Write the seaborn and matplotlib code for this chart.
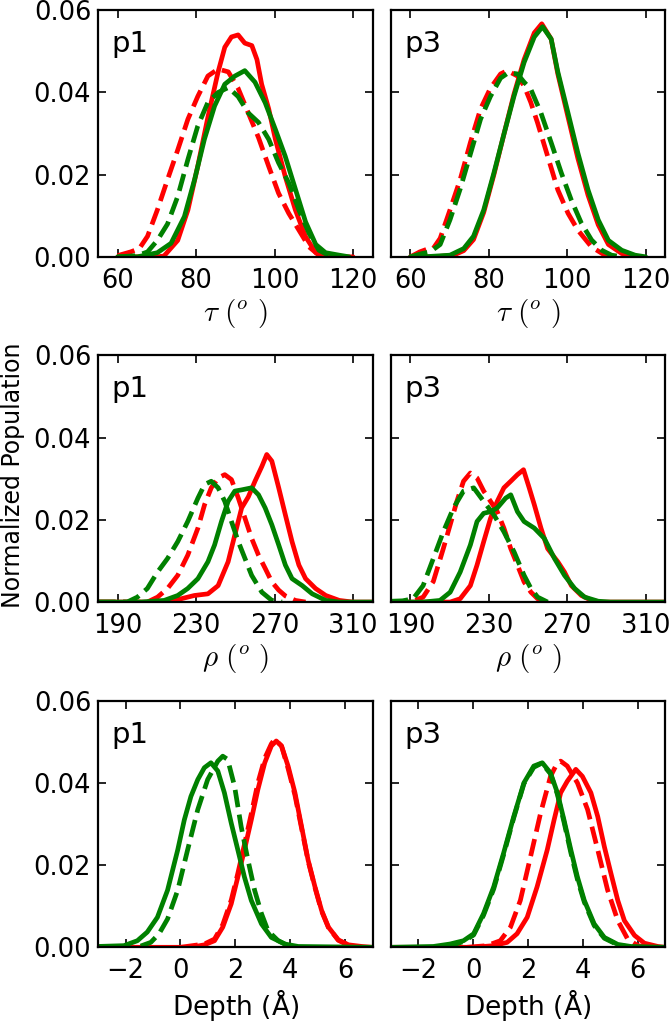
import matplotlib
matplotlib.use("Agg")
import seaborn as sns
from matplotlib import pyplot as plt

RED = "#ff0000"
GREEN = "#008000"

# ---- tau, p1 ----
tau_p1_red_solid_x = [60, 70, 71.8, 75.3, 77.9, 80.4, 83.0, 85.6, 87.3, 89.0, 90.7, 92.4, 94.2, 95.5,
                      96.7, 98.5, 100.2, 102.7, 105.3, 107.9, 110.5, 113, 120]
tau_p1_red_solid_y = [0, 0, 0.0002, 0.004, 0.0114, 0.022, 0.034, 0.045, 0.051, 0.0535, 0.054, 0.052,
                      0.0514, 0.048, 0.042, 0.036, 0.0286, 0.0196, 0.0114, 0.0049, 0.001, 0, 0]
tau_p1_red_dash_x = [60, 63.3, 65.5, 67.6, 70.1, 72.7, 75.3, 77.9, 80.4, 83.0, 85.6, 88.2, 90.7, 93.3,
                     95.9, 98.5, 101.0, 103.6, 106.2, 108.8, 111.3, 114]
tau_p1_red_dash_y = [0.0003, 0.0012, 0.002, 0.005, 0.0114, 0.0188, 0.026, 0.0335, 0.039, 0.044, 0.0457,
                     0.045, 0.041, 0.035, 0.029, 0.022, 0.0155, 0.0106, 0.0065, 0.0024, 0.0004, 0]
tau_p1_green_solid_x = [60, 65, 70.1, 73.6, 77.0, 79.6, 82.1, 84.7, 87.3, 89.9, 92.4, 95.0, 97.6, 100.2,
                        102.7, 105.3, 107.9, 110.5, 113.0, 116.5, 119]
tau_p1_green_solid_y = [0, 0, 0.001, 0.0033, 0.0098, 0.0188, 0.0286, 0.0367, 0.042, 0.044, 0.0453, 0.0425,
                        0.0375, 0.031, 0.0245, 0.0165, 0.0085, 0.003, 0.001, 0.0004, 0]
tau_p1_green_dash_x = [60, 65, 67.6, 70.1, 72.7, 75.3, 77.9, 80.4, 83.0, 85.6, 88.2, 90.7, 93.3, 95.9,
                       98.5, 101.0, 103.6, 106.2, 108.8, 111.3, 113.9, 117]
tau_p1_green_dash_y = [0, 0.0003, 0.0012, 0.004, 0.008, 0.0147, 0.0237, 0.0318, 0.0376, 0.040, 0.0412,
                       0.039, 0.035, 0.0327, 0.0286, 0.0229, 0.018, 0.0114, 0.0057, 0.0016, 0.0003, 0]

# ---- tau, p3 ----
tau_p3_red_solid_x = [60, 66, 71, 73.6, 76.1, 78.7, 81.3, 83.9, 86.4, 89.0, 91.6, 93.5, 95.9, 97.6,
                      100.2, 102.7, 105.3, 107.9, 110.5, 113.9, 117]
tau_p3_red_solid_y = [0, 0, 0.0004, 0.0015, 0.0042, 0.0108, 0.020, 0.030, 0.0395, 0.048, 0.0545, 0.0567,
                      0.053, 0.0445, 0.034, 0.024, 0.015, 0.0078, 0.003, 0.0008, 0]
tau_p3_red_dash_x = [60, 62.4, 64.1, 65.8, 67.6, 70.1, 72.7, 75.3, 77.9, 80.4, 83.0, 84.7, 87.3, 89.0,
                     90.7, 92.4, 95.0, 97.6, 100.2, 102.7, 106.2, 109.6, 112.2]
tau_p3_red_dash_y = [0, 0.0012, 0.0018, 0.002, 0.0045, 0.0114, 0.0188, 0.0278, 0.036, 0.041, 0.0445,
                     0.0453, 0.044, 0.0416, 0.0376, 0.0327, 0.0245, 0.0163, 0.0106, 0.0065, 0.0024,
                     0.0004, 0]
tau_p3_green_solid_x = [60, 63.3, 70.1, 73.6, 76.1, 78.7, 81.3, 83.9, 86.4, 89.0, 91.6, 93.7, 95.9, 97.6,
                        100.2, 102.7, 105.3, 107.9, 110.5, 113.9, 117.3, 120]
tau_p3_green_solid_y = [0, 0, 0.0004, 0.002, 0.005, 0.0114, 0.0204, 0.030, 0.039, 0.0473, 0.0535, 0.056,
                        0.053, 0.045, 0.035, 0.0253, 0.0163, 0.009, 0.004, 0.0016, 0.0004, 0]
tau_p3_green_dash_x = [60, 63, 65, 67.6, 70.1, 72.7, 75.3, 77.9, 80.4, 83.0, 85.0, 87.3, 89.0, 90.7,
                       93.3, 95.9, 98.5, 101.0, 103.6, 106.2, 108.8, 111.3, 114]
tau_p3_green_dash_y = [0, 0.0008, 0.0012, 0.003, 0.009, 0.0165, 0.025, 0.0335, 0.039, 0.0435, 0.0448,
                       0.0445, 0.0425, 0.0408, 0.035, 0.0278, 0.0204, 0.0139, 0.0082, 0.0041, 0.0016,
                       0.0004, 0]

# ---- rho, p1 ----
rho_p1_red_solid_x = [180, 213.7, 222.3, 229.1, 236.0, 241.2, 246.3, 249.7, 253.2, 256.6, 260.0, 263.5,
                      266.0, 268.6, 272.1, 275.5, 278.9, 282.4, 285.8, 290.9, 296.1, 303.0, 309.8, 320]
rho_p1_red_solid_y = [0, 0, 0.0008, 0.0016, 0.002, 0.004, 0.0098, 0.0163, 0.0229, 0.0256, 0.0294, 0.033,
                      0.0359, 0.0343, 0.0278, 0.0212, 0.0147, 0.009, 0.0057, 0.0033, 0.0016, 0.0004, 0, 0]
rho_p1_red_dash_x = [180, 205.1, 210.3, 215.4, 220.6, 225.7, 230.9, 234.3, 237.7, 241.2, 244.6, 248.0,
                     251.5, 254.9, 258.3, 261.8, 265.2, 268.6, 272.1, 275.5, 280.6, 285.8]
rho_p1_red_dash_y = [0, 0, 0.0012, 0.0033, 0.0065, 0.0114, 0.018, 0.0237, 0.0278, 0.0302, 0.031, 0.0298,
                     0.0253, 0.0204, 0.0155, 0.0114, 0.0082, 0.0049, 0.0029, 0.0015, 0.0004, 0]
rho_p1_green_solid_x = [180, 201.7, 213.7, 220.6, 225.7, 230.9, 236.0, 239.4, 242.9, 246.3, 249.7, 253.2,
                        258.3, 261.8, 265.2, 268.6, 272.1, 275.5, 278.9, 284.1, 289.2, 296.1, 303.0, 320]
rho_p1_green_solid_y = [0, 0, 0.0004, 0.0016, 0.0033, 0.0057, 0.0098, 0.0139, 0.0196, 0.0245, 0.027,
                        0.0273, 0.0278, 0.0261, 0.0229, 0.0188, 0.0139, 0.009, 0.0057, 0.004, 0.002,
                        0.0004, 0, 0]
rho_p1_green_dash_x = [180, 194.8, 200.0, 205.1, 210.3, 215.4, 220.6, 225.7, 230.9, 234.3, 237.7, 241.2,
                       244.6, 248.0, 251.5, 254.9, 258.3, 263.5, 268.6, 273.8]
rho_p1_green_dash_y = [0, 0, 0.0012, 0.0033, 0.0073, 0.0106, 0.0147, 0.0196, 0.0253, 0.0286, 0.0294,
                       0.0278, 0.0245, 0.0196, 0.0147, 0.0106, 0.0065, 0.0024, 0.0004, 0]

# ---- rho, p3 ----
rho_p3_red_solid_x = [180, 210.3, 215.4, 220.6, 224.0, 227.4, 230.9, 234.3, 237.7, 241.2, 244.6, 247.7,
                      250.6, 253.2, 256.6, 260.0, 265.2, 268.6, 272.1, 277.2, 282.4, 287.5, 320]
rho_p3_red_solid_y = [0, 0, 0.0008, 0.004, 0.009, 0.0147, 0.0204, 0.0245, 0.0278, 0.0294, 0.031, 0.0322,
                      0.0278, 0.0237, 0.018, 0.013, 0.0098, 0.0073, 0.004, 0.0016, 0.0004, 0, 0]
rho_p3_red_dash_x = [180, 190.0, 196.5, 201.7, 206.8, 210.3, 213.7, 217.1, 220.6, 224.0, 227.4, 230.9,
                     234.3, 237.7, 241.2, 244.6, 248.0, 251.5, 254.9, 260.0]
rho_p3_red_dash_y = [0, 0, 0.0012, 0.005, 0.013, 0.0188, 0.0245, 0.0294, 0.0314, 0.0302, 0.027, 0.0245,
                     0.022, 0.018, 0.013, 0.009, 0.0049, 0.0024, 0.0008, 0]
rho_p3_green_solid_x = [180, 196.5, 205.1, 210.3, 215.4, 220.6, 224.0, 227.4, 230.9, 234.3, 238.6, 241.2,
                        244.6, 248.0, 253.2, 258.3, 263.5, 268.6, 273.8, 278.9, 285.8, 292, 320]
rho_p3_green_solid_y = [0, 0, 0.0004, 0.0024, 0.0073, 0.0139, 0.0196, 0.0216, 0.022, 0.0229, 0.0253,
                        0.0261, 0.022, 0.0196, 0.018, 0.0155, 0.0106, 0.0065, 0.0033, 0.0012, 0.0002, 0, 0]
rho_p3_green_dash_x = [180, 186.0, 191.4, 196.5, 201.7, 206.8, 212.0, 217.1, 222.3, 227.4, 232.6, 237.7,
                       242.9, 248.0, 251.5, 254.9, 260.0]
rho_p3_green_dash_y = [0.0002, 0.0003, 0.0008, 0.004, 0.0106, 0.0171, 0.0229, 0.027, 0.0278, 0.0245,
                       0.0212, 0.0171, 0.0122, 0.0065, 0.0033, 0.0012, 0]

# ---- depth, p1 ----
depth_p1_red_solid_x = [-3.0, 0.38, 0.87, 1.24, 1.54, 1.85, 2.09, 2.33, 2.58, 2.82, 3.07, 3.31, 3.49,
                        3.68, 3.92, 4.17, 4.41, 4.65, 4.9, 5.14, 5.39, 5.75, 6.12, 6.61, 7.0]
depth_p1_red_solid_y = [0, 0, 0.0006, 0.0016, 0.0049, 0.0106, 0.0171, 0.0237, 0.031, 0.0384, 0.0449,
                        0.049, 0.0502, 0.049, 0.0441, 0.0376, 0.0294, 0.0212, 0.0147, 0.009, 0.0049,
                        0.0018, 0.0006, 0.0002, 0]
depth_p1_red_dash_x = [0.0, 0.87, 1.24, 1.54, 1.85, 2.09, 2.33, 2.58, 2.82, 3.07, 3.31, 3.43, 3.68, 3.92,
                       4.17, 4.41, 4.65, 4.9, 5.14, 5.39, 5.75, 6.12, 6.5]
depth_p1_red_dash_y = [0, 0.0008, 0.002, 0.0055, 0.0115, 0.018, 0.025, 0.0325, 0.040, 0.046, 0.0495,
                       0.0506, 0.049, 0.0435, 0.037, 0.029, 0.021, 0.0145, 0.0088, 0.0048, 0.0017, 0.0005, 0]
depth_p1_green_solid_x = [-3.04, -2.06, -1.57, -1.21, -0.84, -0.47, -0.1, 0.14, 0.38, 0.63, 0.87, 1.11,
                          1.36, 1.6, 1.85, 2.09, 2.33, 2.58, 2.95, 3.31, 3.8, 4.29, 7.0]
depth_p1_green_solid_y = [0.0002, 0.0004, 0.0016, 0.0037, 0.0073, 0.0139, 0.0237, 0.031, 0.0367, 0.0408,
                          0.0437, 0.0449, 0.0429, 0.0376, 0.0302, 0.0237, 0.0171, 0.0114, 0.0057, 0.0024,
                          0.0008, 0.0002, 0]
depth_p1_green_dash_x = [-1.45, -1.08, -0.78, -0.47, -0.1, 0.26, 0.63, 0.99, 1.36, 1.54, 1.72, 1.97,
                         2.21, 2.46, 2.7, 2.95, 3.19, 3.56, 3.92, 4.29]
depth_p1_green_dash_y = [0.0003, 0.0012, 0.0033, 0.0069, 0.0139, 0.0237, 0.0335, 0.0408, 0.0453, 0.0465,
                         0.0457, 0.0392, 0.0294, 0.0212, 0.0139, 0.0082, 0.004, 0.0016, 0.0004, 0]

# ---- depth, p3 ----
depth_p3_red_solid_x = [-3.0, 0.02, 0.75, 1.24, 1.6, 1.97, 2.33, 2.7, 2.95, 3.19, 3.43, 3.74, 3.98,
                        4.29, 4.54, 4.78, 5.02, 5.27, 5.51, 5.88, 6.24, 6.73, 7.0]
depth_p3_red_solid_y = [0, 0, 0.0004, 0.0012, 0.0033, 0.0073, 0.0147, 0.0237, 0.031, 0.0376, 0.0404,
                        0.0433, 0.0416, 0.0376, 0.0318, 0.0245, 0.018, 0.0114, 0.0065, 0.0029, 0.001,
                        0.0002, 0]
depth_p3_red_dash_x = [-0.22, 0.5, 0.99, 1.36, 1.72, 2.09, 2.46, 2.82, 3.07, 3.19, 3.43, 3.8, 4.17,
                       4.54, 4.9, 5.27, 5.63, 6.0, 6.36]
depth_p3_red_dash_y = [0, 0.0004, 0.0016, 0.0049, 0.0114, 0.022, 0.0327, 0.0416, 0.0449, 0.0453, 0.0441,
                       0.040, 0.0335, 0.0237, 0.0139, 0.0065, 0.002, 0.0004, 0]
depth_p3_green_solid_x = [-3.0, -1.45, -0.84, -0.35, 0.02, 0.38, 0.75, 1.11, 1.48, 1.85, 2.21, 2.52,
                          2.82, 3.07, 3.31, 3.56, 3.8, 4.05, 4.41, 4.78, 5.27, 5.75, 7.0]
depth_p3_green_solid_y = [0, 0.0002, 0.0008, 0.0016, 0.0033, 0.0082, 0.0147, 0.0229, 0.0318, 0.040,
                          0.0441, 0.0449, 0.0424, 0.0376, 0.031, 0.0237, 0.0171, 0.0114, 0.0057, 0.0024,
                          0.0007, 0.0002, 0]
depth_p3_green_dash_x = [-1.0, -0.35, 0.02, 0.38, 0.75, 1.11, 1.48, 1.85, 2.21, 2.5, 2.82, 3.07, 3.31,
                         3.56, 3.8, 4.05, 4.41, 4.78, 5.27, 5.75]
depth_p3_green_dash_y = [0, 0.0014, 0.003, 0.0078, 0.0142, 0.0225, 0.0315, 0.0398, 0.0438, 0.0448,
                         0.0422, 0.0372, 0.0305, 0.023, 0.0165, 0.011, 0.0053, 0.0022, 0.0006, 0]

panel_names = ["p1", "p3"]
x_labels = [r"$\tau\ (^o\ )$", r"$\rho\ (^o\ )$", r"Depth ($\mathrm{\AA}$)"]
x_label_math = ["cm", "cm", "dejavusans"]
x_label_size = [21, 21, 19]
x_limits = [(55, 125), (180, 320), (-3, 7)]
x_ticks = [[60, 80, 100, 120], [190, 230, 270, 310], [-2, 0, 2, 4, 6]]
y_ticks = [0.00, 0.02, 0.04, 0.06]

curves = [
    [
        [(tau_p1_red_solid_x, tau_p1_red_solid_y, RED, "-"),
         (tau_p1_red_dash_x, tau_p1_red_dash_y, RED, "--"),
         (tau_p1_green_solid_x, tau_p1_green_solid_y, GREEN, "-"),
         (tau_p1_green_dash_x, tau_p1_green_dash_y, GREEN, "--")],
        [(tau_p3_red_solid_x, tau_p3_red_solid_y, RED, "-"),
         (tau_p3_red_dash_x, tau_p3_red_dash_y, RED, "--"),
         (tau_p3_green_solid_x, tau_p3_green_solid_y, GREEN, "-"),
         (tau_p3_green_dash_x, tau_p3_green_dash_y, GREEN, "--")],
    ],
    [
        [(rho_p1_red_solid_x, rho_p1_red_solid_y, RED, "-"),
         (rho_p1_red_dash_x, rho_p1_red_dash_y, RED, "--"),
         (rho_p1_green_solid_x, rho_p1_green_solid_y, GREEN, "-"),
         (rho_p1_green_dash_x, rho_p1_green_dash_y, GREEN, "--")],
        [(rho_p3_red_solid_x, rho_p3_red_solid_y, RED, "-"),
         (rho_p3_red_dash_x, rho_p3_red_dash_y, RED, "--"),
         (rho_p3_green_solid_x, rho_p3_green_solid_y, GREEN, "-"),
         (rho_p3_green_dash_x, rho_p3_green_dash_y, GREEN, "--")],
    ],
    [
        [(depth_p1_red_solid_x, depth_p1_red_solid_y, RED, "-"),
         (depth_p1_red_dash_x, depth_p1_red_dash_y, RED, "--"),
         (depth_p1_green_solid_x, depth_p1_green_solid_y, GREEN, "-"),
         (depth_p1_green_dash_x, depth_p1_green_dash_y, GREEN, "--")],
        [(depth_p3_red_solid_x, depth_p3_red_solid_y, RED, "-"),
         (depth_p3_red_dash_x, depth_p3_red_dash_y, RED, "--"),
         (depth_p3_green_solid_x, depth_p3_green_solid_y, GREEN, "-"),
         (depth_p3_green_dash_x, depth_p3_green_dash_y, GREEN, "--")],
    ],
]

if __name__ == "__main__":
    sns.set_style("ticks")
    plt.rcParams.update({
        "font.family": ["DejaVu Sans"],
        "font.size": 18,
        "mathtext.fontset": "cm",
        "text.color": "black",
        "axes.labelcolor": "black",
        "axes.linewidth": 1.6,
        "axes.edgecolor": "black",
        "xtick.direction": "in",
        "ytick.direction": "in",
        "xtick.top": True,
        "ytick.right": True,
        "xtick.major.size": 6,
        "ytick.major.size": 6,
        "xtick.major.width": 1.2,
        "ytick.major.width": 1.2,
        "xtick.major.pad": 8,
        "ytick.major.pad": 5,
        "xtick.color": "black",
        "ytick.color": "black",
        "xtick.labelcolor": "black",
        "ytick.labelcolor": "black",
    })

    fig, axes = plt.subplots(3, 2, figsize=(6.72, 10.23), dpi=100, sharey=True)
    fig.subplots_adjust(left=0.146, right=0.99, top=0.990, bottom=0.074, wspace=0.066, hspace=0.4)

    for row in range(3):
        for col in range(2):
            ax = axes[row, col]
            for xs, ys, color, ls in curves[row][col]:
                sns.lineplot(x=xs, y=ys, ax=ax, color=color, linestyle=ls, linewidth=3.4,
                             sort=False, estimator=None)
            ax.set_xlim(*x_limits[row])
            ax.set_xticks(x_ticks[row])
            ax.set_ylim(0, 0.06)
            ax.set_yticks(y_ticks)
            ax.yaxis.set_major_formatter(plt.FormatStrFormatter("%.2f"))
            ax.set_xlabel(x_labels[row], fontsize=x_label_size[row], labelpad=2,
                          math_fontfamily=x_label_math[row], color="black")
            ax.set_ylabel("")
            ax.text(0.05, 0.83, panel_names[col], transform=ax.transAxes, fontsize=21,
                    va="baseline", color="black")
            ax.tick_params(labelsize=18.5)
            if col == 1:
                ax.tick_params(labelleft=False)

    fig.text(0.002, 0.535, "Normalized Population", rotation=90, va="center", ha="left",
             fontsize=17, color="black")

    fig.savefig("out.png", dpi=100)
    plt.close()
